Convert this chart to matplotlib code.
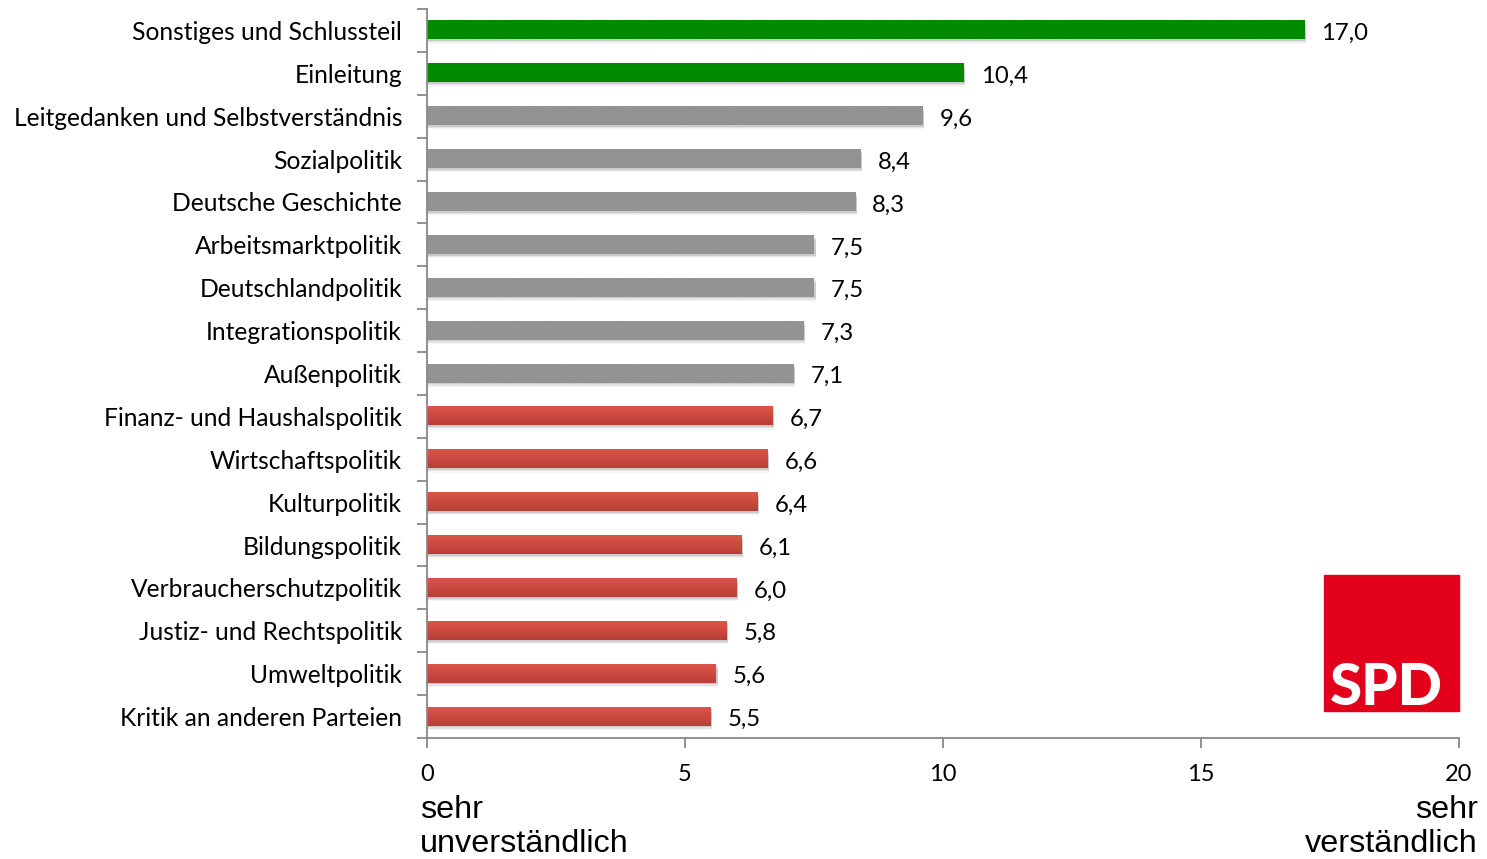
import numpy as np
import matplotlib
matplotlib.use("Agg")
import matplotlib.pyplot as plt
from matplotlib.patches import Rectangle
from matplotlib.colors import LinearSegmentedColormap
import matplotlib.transforms as mtransforms

categories = ["Sonstiges und Schlussteil", "Einleitung", "Leitgedanken und Selbstverständnis",
              "Sozialpolitik", "Deutsche Geschichte", "Arbeitsmarktpolitik", "Deutschlandpolitik",
              "Integrationspolitik", "Außenpolitik", "Finanz- und Haushalspolitik",
              "Wirtschaftspolitik", "Kulturpolitik", "Bildungspolitik", "Verbraucherschutzpolitik",
              "Justiz- und Rechtspolitik", "Umweltpolitik", "Kritik an anderen Parteien"]
values = [17.0, 10.4, 9.6, 8.4, 8.3, 7.5, 7.5, 7.3, 7.1, 6.7, 6.6, 6.4, 6.1, 6.0, 5.8, 5.6, 5.5]
groups = ["green"] * 2 + ["gray"] * 7 + ["red"] * 8
xticks = [0, 5, 10, 15, 20]

grad = {
    "green": ("#008a00", "#008a00"),
    "gray": ("#939393", "#939393"),
    "red": ("#dc5449", "#b83f37"),
}

fig = plt.figure(figsize=(14.87, 8.59), dpi=100)
ax = fig.add_axes([427/1487, 1-738/859, (1459-427)/1487, (738-9)/859])

h = 0.42
y = np.arange(len(categories))
for i, (v, g) in enumerate(zip(values, groups)):
    # shadow
    for k, a in enumerate([0.10, 0.07, 0.04]):
        ax.barh(i + 0.04 + k*0.03, v + 0.03, height=h, color="black", alpha=a, lw=0, zorder=1)
    top, bot = grad[g]
    cmap = LinearSegmentedColormap.from_list("g", [top, bot])
    gimg = np.linspace(0, 1, 50).reshape(-1, 1)
    ax.imshow(gimg, cmap=cmap, aspect="auto", extent=[0, v, i + h/2, i - h/2],
              origin="upper", zorder=2, interpolation="bilinear")
    ax.text(v + 0.33, i + 0.07, f"{v:.1f}".replace(".", ","), va="center", ha="left",
            fontsize=17.2, family="Lato", color="black")

ax.set_xlim(0, 20)
ax.set_ylim(len(categories) - 0.5, -0.5)
ax.set_xticks(xticks)
ax.set_xticklabels([str(t) for t in xticks], fontsize=17, family="Lato")
ax.set_yticks(y)
ax.set_yticklabels(categories, fontsize=17.7, family="Lato")
offset = mtransforms.ScaledTranslation(0, -2/100, fig.dpi_scale_trans)
for lbl in ax.get_yticklabels():
    lbl.set_transform(lbl.get_transform() + offset)
ax.set_yticks(np.arange(len(categories) + 1) - 0.5, minor=True)
ax.tick_params(axis="y", which="major", length=0, pad=18)
ax.tick_params(axis="y", which="minor", length=7, color="#888888", width=1.3)
ax.tick_params(axis="x", length=7, color="#888888", width=1.3, pad=12)
for s in ["top", "right"]:
    ax.spines[s].set_visible(False)
for s in ["left", "bottom"]:
    ax.spines[s].set_color("#888888")
    ax.spines[s].set_linewidth(1.3)

fig.text(420/1487, 1-827/859, "sehr\nunverständlich", ha="left", va="center",
         fontsize=23.3, family="Liberation Sans", linespacing=1.2)
fig.text(1478/1487, 1-827/859, "sehr\nverständlich", ha="right", va="center",
         fontsize=23.3, family="Liberation Sans", linespacing=1.2, multialignment="right")

# SPD logo
fig.patches.append(Rectangle((1324/1487, 1-711/859), 135/1487, 136/859,
                             transform=fig.transFigure, color="#e3001b", zorder=5))
fig.text(1330/1487, 1-705/859, "SPD", ha="left", va="baseline", color="white",
         fontsize=42, fontweight="black", family="Lato", zorder=6)

fig.savefig("out.png", dpi=100)
